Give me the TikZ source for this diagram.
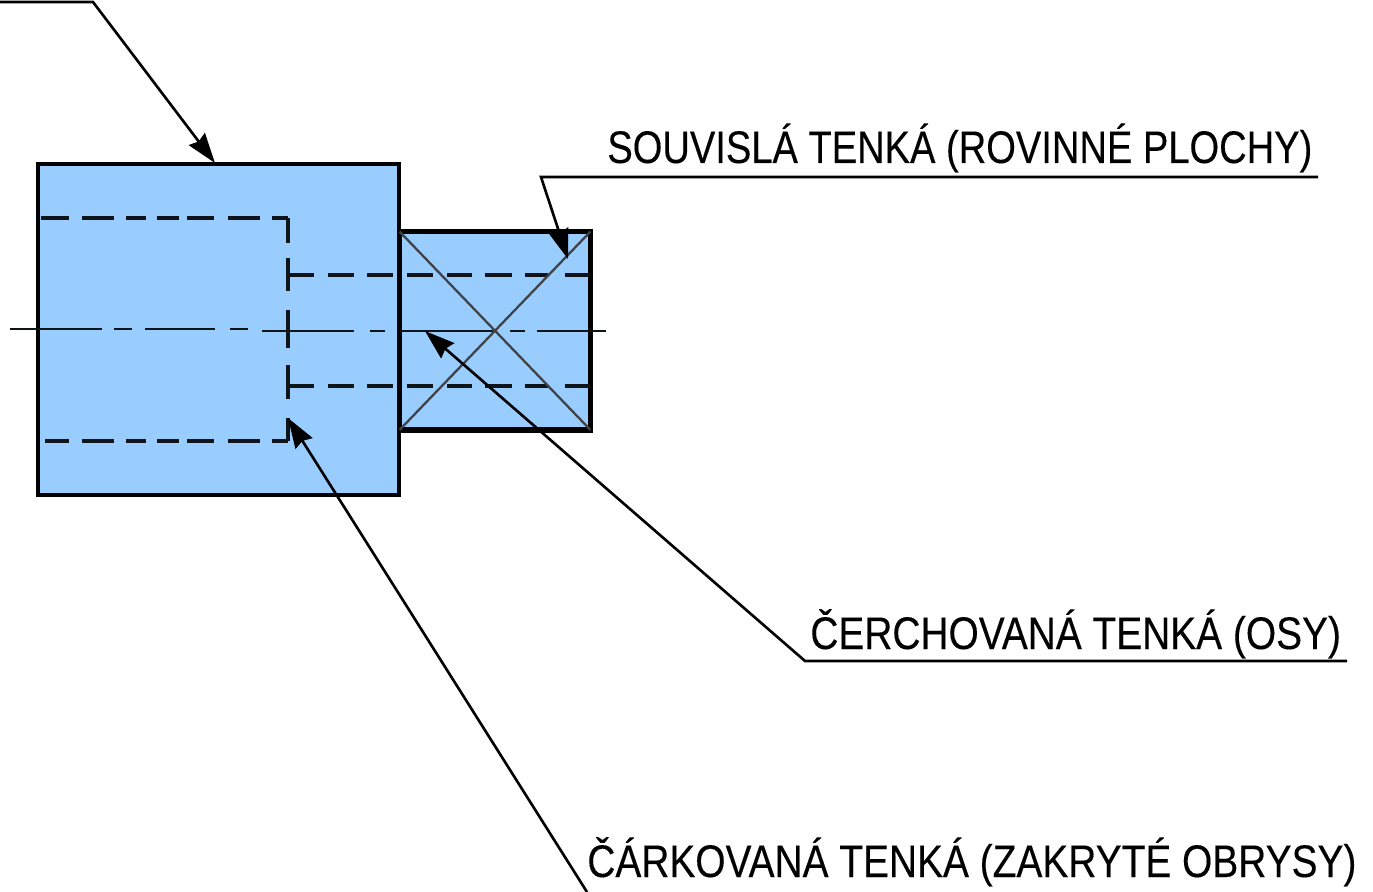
\documentclass[tikz,border=0pt]{standalone}
\usepackage{fontspec}
\setmainfont{Liberation Sans}
\newfontfamily\captionfont[FakeStretch=0.834, FakeBold=0.25]{Liberation Sans}
\newfontfamily\narrowfont[FakeStretch=0.851, FakeBold=0.25]{Liberation Sans}
\usetikzlibrary{arrows.meta}
\definecolor{partblue}{RGB}{153, 204, 255}
\definecolor{inkdark}{RGB}{15, 20, 25}

\begin{document}
\begin{tikzpicture}[
        x=0.02cm, y=-0.02cm,
        part/.style={rectangle, draw=black, fill=partblue, line width=#1, inner sep=0pt, outer sep=0pt},
        thin line/.style={draw=inkdark, line width=1.5pt},
        cross line/.style={draw=inkdark!80, line width=1.3pt},
        hidden/.style={draw=inkdark, line width=1.8pt},
        leader/.style={draw=black, line width=1.5pt, -{Stealth[length=0.6cm, width=0.4cm, inset=0.06cm]}},
        caption/.style={anchor=base west, inner sep=0pt, font=\fontsize{26}{26}\selectfont}
    ]
        \useasboundingbox (0,0) rectangle (1373,892);

        \node (stub) [part=3pt, minimum width=3.82cm, minimum height=3.97cm] at (495,330.75) {};
        \node (block) [part=2.4pt, minimum width=7.22cm, minimum height=6.62cm] at (218.5,329.5) {};

        % hidden outlines
        \foreach \a/\b in {41/69, 82/114, 126/146, 157/179, 187/214, 228/260, 272/288}
            \draw[hidden] (\a,218) -- (\b,218);
        \foreach \a/\b in {45/69, 82/114, 126/146, 157/179, 187/214, 228/260, 272/288}
            \draw[hidden] (\a,441) -- (\b,441);
        \foreach \a/\b in {218/243, 258/291, 310/348, 365/399, 418/441}
            \draw[hidden] (288,\a) -- (288,\b);
        \foreach \a/\b in {288/314, 328/354, 367/393, 407/433, 447/472, 485/512, 525/548, 565/590}{
            \draw[hidden] (\a,275) -- (\b,275);
            \draw[hidden] (\a,386) -- (\b,386);
        }

        % axis
        \foreach \a/\b in {10/102, 114/132, 145/215, 230/248}
            \draw[thin line] (\a,329) -- (\b,329);
        \foreach \a/\b in {262/354, 370/385, 400/495, 510/525, 537/606}
            \draw[thin line] (\a,331) -- (\b,331);

        % flat surface cross
        \draw[cross line] (stub.north west) -- (stub.south east);
        \draw[cross line] (stub.south west) -- (stub.north east);

        \node (souvisla) [caption] at (607,163) {\captionfont SOUVISLÁ TENKÁ (ROVINNÉ PLOCHY)};
        \node (cerchovana) [caption] at (810,649) {\narrowfont ČERCHOVANÁ TENKÁ (OSY)};
        \node (carkovana) [caption] at (587,877) {\narrowfont ČÁRKOVANÁ TENKÁ (ZAKRYTÉ OBRYSY)};

        \coordinate (topEnd) at (0,2);
        \coordinate (topBend) at (93,2);
        \coordinate (topTip) at (215,163);
        \coordinate (souvislaEnd) at (1318,177);
        \coordinate (souvislaBend) at (541,177);
        \coordinate (souvislaTip) at (568,259);
        \coordinate (cerchovanaEnd) at (1347,661);
        \coordinate (cerchovanaBend) at (805,661);
        \coordinate (cerchovanaTip) at (425,331);
        \coordinate (carkovanaEnd) at (587,892);
        \coordinate (carkovanaTip) at (288,418);

        \draw[leader] (topEnd) -- (topBend) -- (topTip);
        \draw[leader] (souvislaEnd) -- (souvislaBend) -- (souvislaTip);
        \draw[leader] (cerchovanaEnd) -- (cerchovanaBend) -- (cerchovanaTip);
        \draw[leader] (carkovanaEnd) -- (carkovanaTip);
    \end{tikzpicture}
\end{document}
